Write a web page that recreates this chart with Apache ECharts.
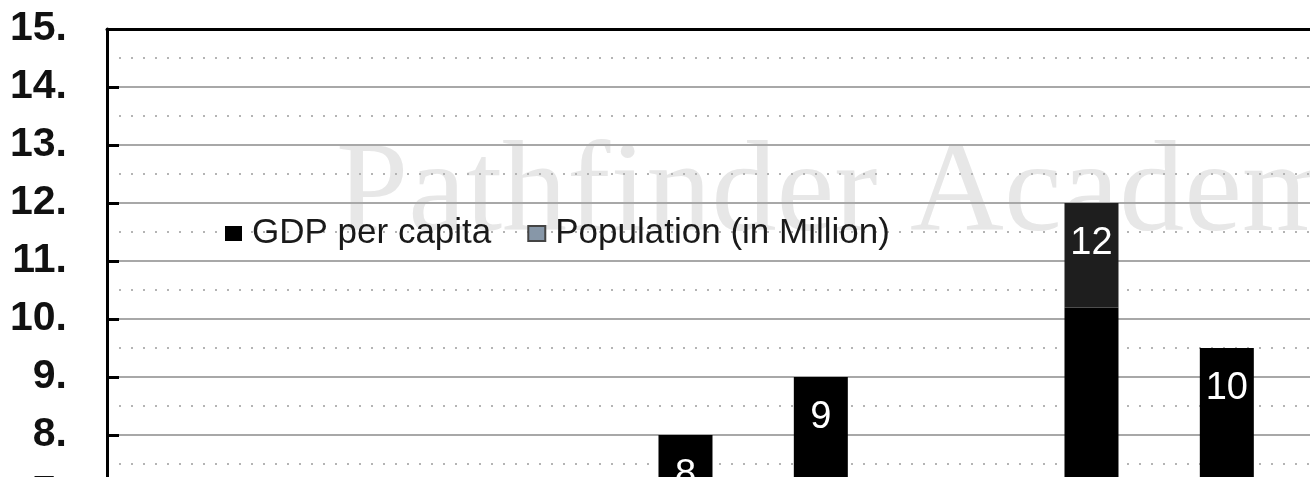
<!DOCTYPE html>
<html>
<head>
<meta charset="utf-8">
<script src="https://cdn.jsdelivr.net/npm/echarts@6/dist/echarts.min.js"></script>
<style>
  html, body { margin: 0; padding: 0; background: #fff; }
  #chart { width: 1310px; height: 477px; }
</style>
</head>
<body>
<div id="chart"></div>
<script>
// categories sit below the visible crop, their names can't be read
const categories = ["C1", "C2", "C3", "C4", "C5", "C6", "C7", "C8", "C9"];
// black part of the GDP bars
const gdpBase = [null, null, null, null, 8, 9, null, 10.2, 9.5];
// darker-grey upper piece on the tallest bar
const gdpTop = [null, null, null, null, null, null, null, 1.8, null];
// population bars are all below the visible range
const population = [null, null, null, null, null, null, null, null, null];
const yMin = 7;
const yMax = 15;
const yStep = 1;

const chart = echarts.init(document.getElementById("chart"));

const labelStyle = {
  show: true,
  position: "insideTop",
  distance: 22,
  color: "#ffffff",
  fontSize: 38,
  fontFamily: "Liberation Sans",
};

const option = {
  animation: false,
  backgroundColor: "#ffffff",
  graphic: [
    {
      type: "text",
      z: -10,
      left: 336,
      top: 131,
      style: {
        text: "Pathfinder Academy",
        font: '130px "Liberation Serif"',
        fill: "#e7e7e7",
      },
    },
  ],
  legend: {
    left: 225,
    top: 216,
    padding: 0,
    itemWidth: 17,
    itemHeight: 15,
    itemGap: 36,
    icon: "rect",
    textStyle: {
      fontFamily: "Liberation Sans",
      fontSize: 35,
      color: "#1a1a1a",
      padding: [0, 0, 0, 5],
    },
    data: ["GDP per capita", "Population (in Million)"],
  },
  grid: {
    left: 107,
    right: -15,
    top: 29,
    bottom: -16,
    outerBoundsMode: "none",
    containLabel: false,
  },
  xAxis: {
    type: "category",
    data: categories,
    position: "top",
    z: 5,
    axisLine: { show: true, onZero: false, lineStyle: { color: "#000", width: 3 } },
    axisTick: { show: false },
    axisLabel: { show: false },
  },
  yAxis: {
    type: "value",
    min: yMin,
    max: yMax,
    interval: yStep,
    axisLine: { show: true, lineStyle: { color: "#000", width: 3 } },
    axisTick: { show: true, inside: true, length: 12, lineStyle: { color: "#000", width: 3 } },
    axisLabel: {
      margin: 40,
      fontSize: 41,
      fontWeight: "bold",
      fontFamily: "Liberation Sans",
      color: "#111",
      formatter: (v) => v + ".",
    },
    splitLine: { show: true, lineStyle: { color: "#a8a8a8", width: 2 } },
    minorTick: { show: false, splitNumber: 2 },
    minorSplitLine: { show: true, lineStyle: { color: "#b4b4b4", width: 2, type: [2, 10] } },
  },
  series: [
    {
      name: "GDP per capita",
      type: "bar",
      stack: "gdp",
      barWidth: 54,
      barGap: "13%",
      data: gdpBase,
      itemStyle: { color: "#000000" },
      label: {
        ...labelStyle,
        formatter: (p) => (gdpTop[p.dataIndex] ? "" : Math.round(p.value)),
      },
    },
    {
      name: "GDP per capita",
      type: "bar",
      stack: "gdp",
      barWidth: 54,
      data: gdpTop,
      itemStyle: { color: "#1e1e1e" },
      label: {
        ...labelStyle,
        formatter: (p) => Math.round(gdpBase[p.dataIndex] + gdpTop[p.dataIndex]),
      },
    },
    {
      name: "Population (in Million)",
      type: "bar",
      barWidth: 54,
      data: population,
      itemStyle: { color: "#8797a8", borderColor: "#444", borderWidth: 1 },
    },
  ],
};

chart.setOption(option);
window.addEventListener("resize", () => {
  chart.resize();
});
</script>
</body>
</html>
